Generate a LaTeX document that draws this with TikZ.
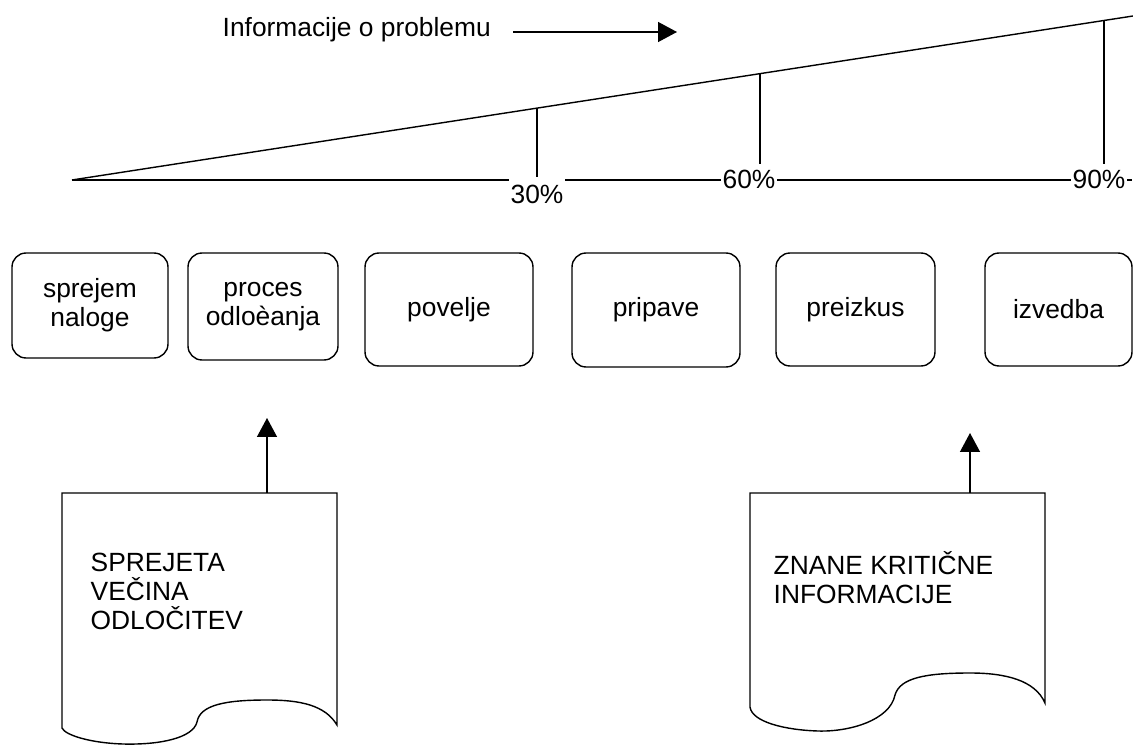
\documentclass[tikz,border=0pt]{standalone}
\usepackage{fontspec}
\setmainfont{Liberation Sans}
\usetikzlibrary{arrows.meta}

\begin{document}
\begin{tikzpicture}[x=0.02cm, y=-0.02cm, line width=0.8pt,
    >={Triangle[length=0.38cm,width=0.4cm]},
    every node/.style = {font=\fontsize{15}{16.5}\selectfont},
    phase/.style   = {draw, rectangle, rounded corners=0.28cm, align=center},
    pct/.style     = {fill=white, inner xsep=1pt, inner ysep=3pt},
    doctext/.style = {anchor=west, align=left, inner sep=0pt}]

  \useasboundingbox (0,0) rectangle (1133,746);

  % information wedge
  \draw (222,37) node[anchor=base west, inner sep=0pt] (info) {Informacije o problemu};
  \coordinate (ia) at (513,32);
  \coordinate (ib) at (677,32);
  \draw [->] (ia) -- (ib);

  \coordinate (o) at (72,180);
  \coordinate (e) at (1133,16);
  \coordinate (b) at (1132,180);
  \draw (o) -- (e);
  \draw (o) -- (b);
  \draw (537,194) node[pct, inner ysep=4pt] (p30) {30\%};
  \draw (749,179) node[pct] (p60) {60\%};
  \draw (1099,179) node[pct] (p90) {90\%};
  \coordinate (t30) at (537,108);
  \coordinate (t60) at (760,74);
  \coordinate (t90) at (1104,21);
  \draw (t30) -- (t30 |- p30.north);
  \draw (t60) -- (t60 |- p60.north);
  \draw (t90) -- (t90 |- p90.north);

  % phases
  \draw (90,305.5) node[phase, minimum width=3.12cm, minimum height=2.10cm] (sprejem) {sprejem\\naloge};
  \draw (263,306.5) node[phase, minimum width=3.00cm, minimum height=2.14cm] (proces) {proces\\odloèanja};
  \draw (449,309.5) node[phase, minimum width=3.36cm, minimum height=2.26cm] (povelje) {povelje};
  \draw (656,310) node[phase, minimum width=3.36cm, minimum height=2.28cm] (pripave) {pripave};
  \draw (855.5,309.5) node[phase, minimum width=3.18cm, minimum height=2.26cm] (preizkus) {preizkus};
  \draw (1058.5,309.5) node[phase, minimum width=2.94cm, minimum height=2.26cm] (izvedba) {izvedba};

  % documents
  \draw (62,728) -- (62,493) -- (337,493) -- (337,725)
    .. controls (325,705) and (300,700) .. (267,700)
    .. controls (225,700) and (200,705) .. (197,722)
    .. controls (193,738) and (160,745) .. (123,744)
    .. controls (90,743) and (65,735) .. (62,728);
  \draw (90,591.5) node[doctext] (odl) {SPREJETA\\VEČINA\\ODLOČITEV};
  \coordinate (d1) at (267,493);
  \coordinate (d1t) at (267,418);
  \draw [->] (d1) -- (d1t);

  \draw (750,707) -- (750,493) -- (1045,493) -- (1045,703)
    .. controls (1035,680) and (1005,673) .. (970,673)
    .. controls (925,673) and (900,678) .. (895,695)
    .. controls (890,720) and (850,732) .. (818,731)
    .. controls (785,730) and (752,722) .. (750,707);
  \draw (773,577.5) node[doctext] (krit) {ZNANE KRITIČNE\\INFORMACIJE};
  \coordinate (d2) at (970,493);
  \coordinate (d2t) at (970,433);
  \draw [->] (d2) -- (d2t);

\end{tikzpicture}
\end{document}
